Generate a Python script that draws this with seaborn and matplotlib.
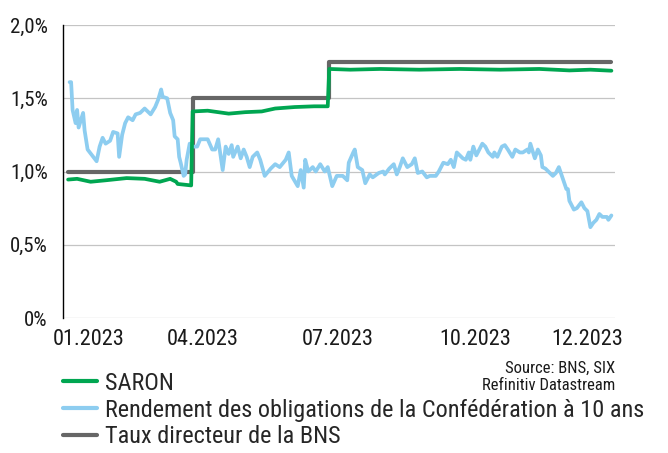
import pandas as pd
import seaborn as sns
import matplotlib.pyplot as plt
from matplotlib import font_manager

# data (day offsets from 01.01.2023, values in %)
saron_day = [-2, 4, 13, 23, 37, 49, 59, 66, 70, 71, 80, 81, 91, 105, 116, 127, 136, 149, 162, 171,
             172, 186, 206, 232, 259, 286, 312, 332, 346, 360]
saron_val = [0.945, 0.95, 0.93, 0.94, 0.955, 0.95, 0.93, 0.95, 0.93, 0.915, 0.905, 1.41, 1.415, 1.395,
             1.405, 1.41, 1.43, 1.44, 1.445, 1.445, 1.70, 1.695, 1.70, 1.695, 1.70, 1.695, 1.70, 1.69,
             1.695, 1.688]

bond_day = [-1, 0, 1, 3, 4, 5, 8, 9, 11, 14, 17, 19, 21, 23, 26, 28, 31, 32, 34, 36, 38, 41, 43, 46,
            49, 53, 56, 58, 60, 61, 64, 66, 68, 69, 71, 72, 73, 75, 76, 77, 79, 81, 84, 86, 89, 91,
            94, 96, 98, 101, 103, 105, 107, 108, 111, 113, 115, 117, 119, 121, 124, 126, 129, 133,
            136, 139, 143, 145, 147, 151, 153, 155, 156, 158, 161, 163, 166, 169, 171, 174, 177,
            181, 184, 185, 188, 189, 191, 194, 196, 199, 201, 205, 208, 209, 212, 215, 217, 219,
            221, 224, 227, 229, 231, 234, 237, 239, 243, 245, 248, 251, 253, 255, 257, 261, 263,
            265, 266, 268, 270, 272, 274, 276, 278, 281, 282, 284, 287, 289, 291, 294, 296, 299,
            301, 304, 305, 306, 309, 311, 313, 314, 316, 318, 321, 323, 325, 328, 330, 331, 332,
            335, 337, 340, 342, 344, 346, 348, 350, 352, 354, 357, 358, 360]
bond_val = [1.61, 1.61, 1.42, 1.33, 1.42, 1.30, 1.40, 1.28, 1.15, 1.11, 1.07, 1.17, 1.23, 1.19, 1.21,
            1.27, 1.26, 1.10, 1.25, 1.33, 1.37, 1.35, 1.39, 1.40, 1.43, 1.39, 1.44, 1.49, 1.56, 1.51,
            1.50, 1.40, 1.35, 1.24, 1.22, 1.10, 1.06, 0.97, 0.98, 1.08, 1.19, 1.17, 1.17, 1.22, 1.22,
            1.22, 1.15, 1.15, 1.22, 1.01, 1.17, 1.12, 1.18, 1.10, 1.17, 1.09, 1.15, 1.10, 1.03, 1.10,
            1.13, 1.08, 0.97, 1.02, 1.05, 1.03, 1.08, 1.13, 0.97, 0.90, 1.01, 0.89, 1.08, 1.00, 1.03,
            1.00, 1.05, 1.00, 1.03, 0.90, 0.97, 0.97, 0.94, 1.06, 1.13, 1.15, 1.03, 1.01, 0.92, 0.98,
            0.96, 0.99, 1.00, 0.98, 1.02, 1.05, 0.98, 1.03, 1.09, 1.03, 1.05, 1.09, 0.99, 1.00, 0.96,
            0.97, 0.97, 1.00, 1.06, 1.05, 1.08, 1.03, 1.13, 1.09, 1.08, 1.13, 1.08, 1.17, 1.11, 1.15,
            1.19, 1.17, 1.13, 1.10, 1.13, 1.10, 1.17, 1.18, 1.15, 1.10, 1.15, 1.13, 1.13, 1.15, 1.13,
            1.19, 1.09, 1.15, 1.11, 1.03, 1.02, 1.00, 0.97, 0.99, 1.03, 0.94, 0.88, 0.88, 0.80, 0.74,
            0.75, 0.79, 0.75, 0.73, 0.62, 0.65, 0.67, 0.71, 0.69, 0.69, 0.67, 0.70]

rate_day = [-2, 81, 172, 360]
rate_val = [1.0, 1.5, 1.75, 1.75]

series_names = ["SARON", "Rendement des obligations de la Confédération à 10 ans",
                "Taux directeur de la BNS"]
xtick_dates = ["2023-01-13", "2023-03-30", "2023-06-28", "2023-09-27", "2023-12-11"]
xtick_labels = ["01.2023", "04.2023", "07.2023", "10.2023", "12.2023"]
ytick_vals = [0, 0.5, 1.0, 1.5, 2.0]
ytick_labels = ["0%", "0,5%", "1,0%", "1,5%", "2,0%"]

start = pd.Timestamp("2023-01-01")
def to_df(days, vals):
    return pd.DataFrame({"date": start + pd.to_timedelta(days, unit="D"), "val": vals})

saron = to_df(saron_day, saron_val)
bond = to_df(bond_day, bond_val)
rate = to_df(rate_day, rate_val)

sns.set_theme(style="white")

# pick a narrow font if one is installed
fonts = font_manager.fontManager.ttflist
names = {f.name for f in fonts}
family = None
stretch = "normal"
for cand in ["Liberation Sans Narrow", "Roboto Condensed", "Open Sans Condensed",
             "Noto Sans Condensed", "DejaVu Sans Condensed", "Arial Narrow"]:
    if cand in names:
        family = cand
        break
if family is None:
    for f in fonts:
        if "ondensed" in str(f.stretch) or "Condensed" in f.fname:
            if f.name in ("Noto Sans", "Open Sans", "DejaVu Sans", "Roboto", "Liberation Sans"):
                family = f.name
                stretch = "condensed"
                break
if family is None:
    family = "DejaVu Sans"
plt.rcParams['font.family'] = [family, 'DejaVu Sans']
plt.rcParams['font.stretch'] = stretch

fig = plt.figure(figsize=(6.68, 4.53), dpi=100)
ax = fig.add_axes([63 / 668, 1 - 318 / 453, (615 - 63) / 668, (318 - 25) / 453])

green = "#00a651"
blue = "#8dcdf0"
grey = "#666666"

sns.lineplot(data=rate, x="date", y="val", ax=ax, color=grey, lw=3.0, drawstyle="steps-post", zorder=3)
sns.lineplot(data=bond, x="date", y="val", ax=ax, color=blue, lw=2.7, zorder=4)
sns.lineplot(data=saron, x="date", y="val", ax=ax, color=green, lw=2.7, zorder=5)

ax.set_ylim(0, 2.0)
ax.set_xlim(start - pd.Timedelta(days=5.4), start + pd.Timedelta(days=362.4))
ax.set_yticks(ytick_vals)
ax.set_yticklabels(ytick_labels, fontsize=15, color="#1a1a1a")
ax.set_xticks(pd.to_datetime(xtick_dates))
ax.set_xticklabels(xtick_labels, fontsize=16, color="#1a1a1a")
ax.tick_params(axis="both", length=0)
ax.tick_params(axis="y", pad=11)
ax.tick_params(axis="x", pad=8)
ax.set_xlabel("")
ax.set_ylabel("")

ax.grid(axis="y", color="#c4c4c4", lw=0.9)
ax.set_axisbelow(True)
for s in ["top", "right", "bottom"]:
    ax.spines[s].set_visible(False)
ax.spines["left"].set_color("black")
ax.spines["left"].set_linewidth(1.0)

handles = [plt.Line2D([], [], color=green, lw=3),
           plt.Line2D([], [], color=blue, lw=3),
           plt.Line2D([], [], color=grey, lw=3)]
fig.legend(handles, series_names, loc="upper left", bbox_to_anchor=(63 / 668, 1 - 372 / 453),
           frameon=False, fontsize=17.5, handlelength=1.4, handletextpad=0.33, labelspacing=0.15,
           borderpad=0, borderaxespad=0)

fig.text(615 / 668, 1 - 361 / 453, "Source: BNS, SIX\nRefinitiv Datastream", ha="right", va="top",
         fontsize=12, color="#1a1a1a", linespacing=1.2)

fig.savefig("out.png", dpi=100)
